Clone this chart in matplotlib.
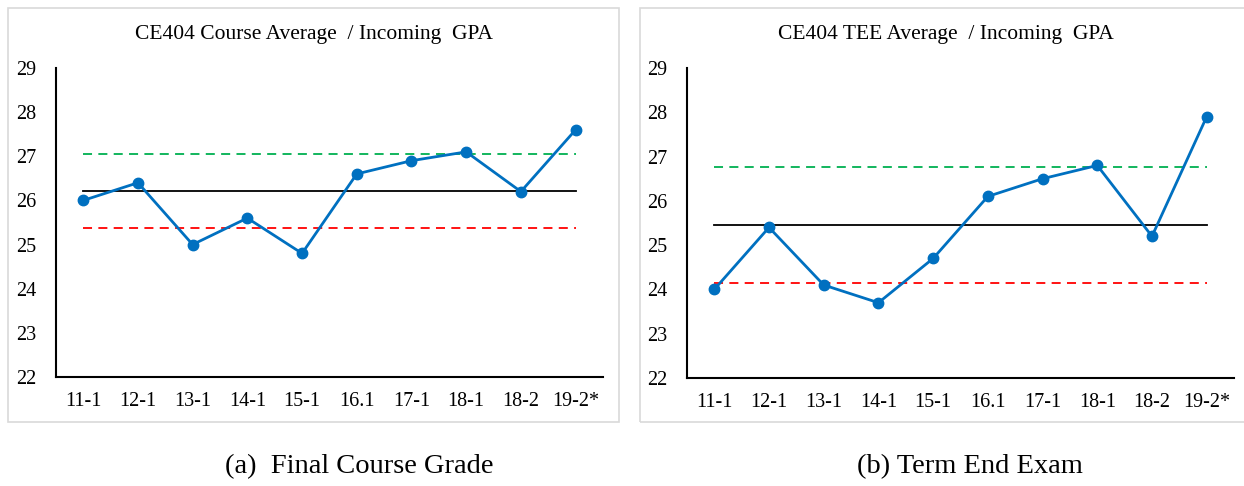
import matplotlib.pyplot as plt
from matplotlib.patches import Rectangle

plt.rcParams["font.family"] = ["Liberation Serif", "DejaVu Serif"]

# semesters on the x axis
terms = ["11-1", "12-1", "13-1", "14-1", "15-1", "16.1", "17-1", "18-1", "18-2", "19-2*"]

# ratio of course average to incoming GPA
course_avg = [26.0, 26.4, 25.0, 25.6, 24.8, 26.6, 26.9, 27.1, 26.2, 27.6]
course_mean, course_hi, course_lo = 26.21, 27.06, 25.37

# ratio of term end exam average to incoming GPA
tee_avg = [24.0, 25.4, 24.1, 23.7, 24.7, 26.1, 26.5, 26.8, 25.2, 27.9]
tee_mean, tee_hi, tee_lo = 25.45, 26.76, 24.15

panels = [
    ("CE404 Course Average  / Incoming  GPA", course_avg, course_mean, course_hi, course_lo,
     "(a)  Final Course Grade"),
    ("CE404 TEE Average  / Incoming  GPA", tee_avg, tee_mean, tee_hi, tee_lo,
     "(b) Term End Exam"),
]

fig = plt.figure(figsize=(12.44, 4.86), dpi=100)

# [axes rect, frame rect, title x, caption x]
layout = [
    ([0.0449, 0.2243, 0.4398, 0.6358], (0.0064, 0.1317, 0.4912, 0.852), 0.252, 0.289),
    ([0.5522, 0.2222, 0.4398, 0.6379], (0.5145, 0.1317, 0.52, 0.852), 0.760, 0.780),
]

x = list(range(len(terms)))
for (title, vals, mean, hi, lo, caption), (rect, frame, tx, cx) in zip(panels, layout):
    fig.patches.append(Rectangle(frame[:2], frame[2], frame[3], transform=fig.transFigure,
                                 fill=False, edgecolor="#D9D9D9", linewidth=1.2))
    ax = fig.add_axes(rect)
    ax.plot(x, [hi] * len(x), color="#00B050", linewidth=1.3, dashes=(5, 3.5))
    ax.plot(x, [lo] * len(x), color="#FF0000", linewidth=1.3, dashes=(5, 3.5))
    ax.plot(x, [mean] * len(x), color="black", linewidth=1.3)
    ax.plot(x, vals, color="#0070C0", linewidth=2.0, marker="o", markersize=7.5)

    ax.set_xlim(-0.5, len(x) - 0.5)
    ax.set_ylim(22, 29)
    ax.set_yticks(range(22, 30))
    ax.set_xticks(x)
    ax.set_xticklabels(terms)
    ax.tick_params(length=0, labelsize=14.5, pad=11)
    ax.tick_params(axis="y", pad=14)
    for side in ["top", "right"]:
        ax.spines[side].set_visible(False)
    for side in ["left", "bottom"]:
        ax.spines[side].set_linewidth(1.5)

    fig.text(tx, 0.928, title, ha="center", va="center", fontsize=15.5)
    fig.text(cx, 0.04, caption, ha="center", va="center", fontsize=20.5)

fig.savefig("out.png", dpi=100)
